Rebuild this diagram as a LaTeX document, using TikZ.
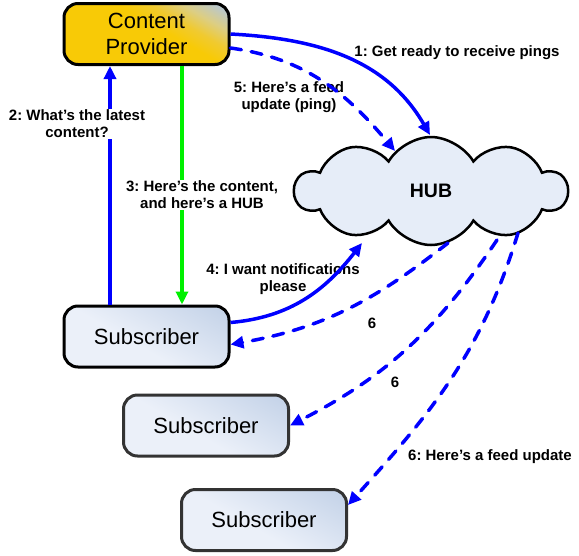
\documentclass[tikz,border=0pt]{standalone}
\usepackage{fontspec}
\setmainfont{Liberation Sans}
\usetikzlibrary{arrows.meta,shapes.symbols}
\definecolor{cpY}{HTML}{F8CA06}
\definecolor{cpY2}{HTML}{F0CA30}
\definecolor{cpM}{HTML}{DCCE84}
\definecolor{cpB}{HTML}{B4C6D8}
\definecolor{sbL}{HTML}{EBF0F9}
\definecolor{sbR}{HTML}{C2D1E7}
\definecolor{hubfill}{HTML}{E6EDF8}
\definecolor{arrblue}{HTML}{0000FF}
\definecolor{arrgreen}{HTML}{00F000}
\definecolor{darkedge}{HTML}{333333}
\pgfdeclarehorizontalshading{cpshade}{100bp}{color(0bp)=(cpY); color(56bp)=(cpY); color(64bp)=(cpY2); color(72bp)=(cpM); color(82bp)=(cpB); color(100bp)=(cpB)}
\pgfdeclarehorizontalshading{subshade}{100bp}{color(0bp)=(sbL); color(44bp)=(sbL); color(84bp)=(sbR); color(100bp)=(sbR)}
\begin{document}
\frenchspacing
\begin{tikzpicture}[x=1pt,y=1pt,
  boxnode/.style={rectangle, rounded corners=14pt, line width=3pt, minimum width=165pt, minimum height=61pt, inner sep=0pt, align=center, font=\fontsize{22}{26}\selectfont},
  cpbox/.style={boxnode, draw=black, shade, shading=cpshade, shading angle=60},
  subbox/.style={boxnode, draw=#1, shade, shading=subshade, shading angle=60},
  lbl/.style={font=\bfseries\fontsize{15}{17}\selectfont, align=center, inner sep=1pt},
  bluearrow/.style={line width=3.5pt, draw=arrblue, -{Triangle[length=13pt,width=12pt]}},
  dasharrow/.style={bluearrow, line cap=round, dash pattern=on 11pt off 10pt},
  greenarrow/.style={line width=3.2pt, draw=arrgreen, -{Triangle[length=13pt,width=12pt]}},
  hubshape/.style={cloud, cloud puffs=10, cloud puff arc=120, aspect=2.5, draw=black, line width=2.5pt, fill=hubfill, minimum width=272pt, minimum height=108pt, inner sep=0pt, font=\bfseries\fontsize{19.5}{22}\selectfont}
]
\useasboundingbox (0,0) rectangle (579,-555);

\node[cpbox] (cp) at (146.5,-34) {Content\\Provider};
\node[subbox=black] (sub1) at (146.5,-336.5) {Subscriber};
\node[subbox=darkedge] (sub2) at (206,-425.5) {Subscriber};
\node[subbox=darkedge] (sub3) at (264,-520) {Subscriber};
\node[hubshape] (hub) at (431,-191) {HUB};

% labels drawn under crossing arrows
\node[lbl] (l1) at (457,-53) {1: Get ready to receive pings};
\node[lbl] (l5) at (289,-97) {5: Here’s a feed\\update (ping)};
\node[lbl] (l4) at (283,-279) {4: I want notifications\\please};
\node[lbl] (l6a) at (372,-323) {6};
\node[lbl] (l6b) at (395,-382) {6};
\node[lbl] (l6c) at (490,-457) {6: Here’s a feed update};

\draw[bluearrow] (cp.east) to[out=-3,in=120] ([shift={(-1,56)}]hub.center);
\draw[dasharrow] ([yshift=-14pt]cp.east) to[out=-8,in=130] ([shift={(-36,40)}]hub.center);
\draw[bluearrow] ([xshift=-36.5pt]sub1.north) -- ([xshift=-36.5pt]cp.south);
\draw[greenarrow] ([xshift=35.5pt]cp.south) -- ([xshift=35.5pt]sub1.north);
\draw[bluearrow] ([yshift=14pt]sub1.east) to[out=5,in=-128] ([shift={(-69,-52)}]hub.center);
\draw[dasharrow] ([shift={(17,-52)}]hub.center) to[out=-142,in=10] ([yshift=-8pt]sub1.east);
\draw[dasharrow] ([shift={(66,-49)}]hub.center) to[out=-124,in=27] (sub2.east);
\draw[dasharrow] ([shift={(87,-42)}]hub.center) to[out=-107,in=48] ([yshift=15pt]sub3.east);

% labels with white background over lines
\node[lbl, fill=white] (l2) at (77,-124) {2: What’s the latest\\content?};
\node[lbl, fill=white] (l3) at (202,-195) {3: Here’s the content,\\and here’s a HUB};
\end{tikzpicture}
\end{document}
